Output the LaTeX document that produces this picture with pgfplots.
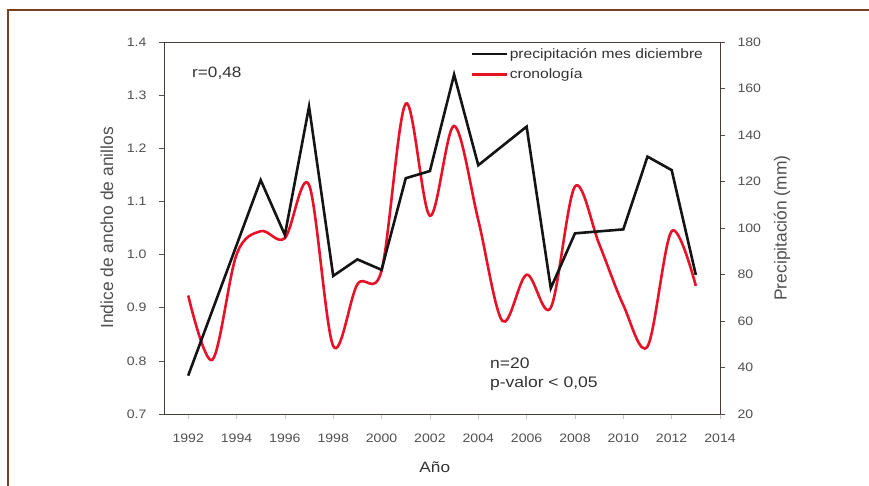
\documentclass[border=0pt]{standalone}
\usepackage{fontspec}
\setmainfont{Liberation Sans}[FakeStretch=1.15]
\newfontfamily\plainsans{Liberation Sans}
\usepackage{pgfplots}
\pgfplotsset{compat=1.18}
\definecolor{framebrown}{RGB}{122,62,32}
\definecolor{axgray}{RGB}{70,60,55}
\definecolor{tickgray}{RGB}{80,80,80}
\definecolor{txtgray}{RGB}{50,50,50}
\definecolor{cred}{RGB}{232,18,40}
\begin{document}
\begin{tikzpicture}[x=1bp,y=1bp]
\path[use as bounding box] (0,0) rectangle (869,486);
\draw[framebrown, line width=2.2bp] (8,-20) -- (8,476) -- (890,476);
\pgfplotsset{
 base/.style={
  scale only axis, width=556bp, height=372bp,
  at={(164bp,72bp)}, anchor=south west,
  xmin=1991, xmax=2014,
  axis line style={axgray, line width=0.9bp},
  tick align=outside, major tick length=5bp,
  /pgf/number format/assume math mode=true,
  tick label style={font=\fontsize{12.3}{14}\selectfont, text=tickgray},
  xtick style={gray!45, line width=0.6bp},
  ytick style={tickgray, line width=0.6bp},
 }}
\begin{axis}[base,
  ymin=0.7, ymax=1.4,
  xtick={1992,1994,1996,1998,2000,2002,2004,2006,2008,2010,2012,2014},
  xticklabels={1992,1994,1996,1998,2000,2002,2004,2006,2008,2010,2012,2014},
  ytick={0.7,0.8,0.9,1.0,1.1,1.2,1.3,1.4},
  yticklabels={0.7,0.8,0.9,1.0,1.1,1.2,1.3,1.4},
  ytick pos=left, xtick pos=bottom,
  xticklabel style={yshift=-11bp},
  yticklabel style={xshift=-9bp},
  every axis y label/.style={at={(axis description cs:-0.1025,0.5)},rotate=90,anchor=center,text=tickgray},
  ylabel={\plainsans\fontsize{17.5}{20}\selectfont Indice de ancho de anillos},
  every axis x label/.style={at={(axis description cs:0.487,-0.1425)},anchor=center,text=txtgray},
  xlabel={\fontsize{15}{18}\selectfont Año},
]
\addplot[cred, line width=2.6bp, smooth, tension=0.55] coordinates {
 (1992,0.923) (1993,0.802) (1994,1.000) (1995,1.044) (1996,1.031)
 (1997,1.131) (1998,0.828) (1999,0.944) (2000,0.970) (2001,1.284)
 (2002,1.073) (2003,1.242) (2004,1.065) (2005,0.875) (2006,0.962)
 (2007,0.900) (2008,1.128) (2009,1.020) (2010,0.905) (2011,0.827)
 (2012,1.044) (2013,0.941)};
\node[anchor=west, font=\fontsize{15}{18}\selectfont, text=txtgray, inner sep=0pt] at (axis description cs:0.0504,0.9167) {r=0,48};
\node[anchor=west, font=\fontsize{15.3}{18}\selectfont, text=txtgray, inner sep=0pt] at (axis description cs:0.586,0.137) {n=20};
\node[anchor=west, font=\fontsize{15.3}{18}\selectfont, text=txtgray, inner sep=0pt] at (axis description cs:0.586,0.0806) {p-valor < 0,05};
\end{axis}
\begin{axis}[base,
  ymin=20, ymax=180,
  ytick={20,40,60,80,100,120,140,160,180},
  axis y line*=right, hide x axis,
  yticklabel style={xshift=9bp},
  every axis y label/.style={at={(axis description cs:1.1115,0.5)},rotate=90,anchor=center,text=tickgray},
  ylabel={\plainsans\fontsize{17.5}{20}\selectfont Precipitación (mm)},
  legend style={at={(axis description cs:0.545,0.994)}, anchor=north west, draw=none, fill=none,
    font=\fontsize{13.6}{15}\selectfont, text=txtgray, row sep=5bp},
  legend cell align=left,
  legend image code/.code={\draw[#1] (0bp,0bp) -- (35bp,0bp);},
]
\addplot[black!92, line width=2.6bp] coordinates {
 (1992,36.5) (1995,120.6) (1996,97.0) (1997,152.2) (1998,79.4)
 (1999,86.5) (2000,82.0) (2001,121.4) (2002,124.5) (2003,166.0)
 (2004,127.0) (2006,143.6) (2007,74.1) (2008,97.7) (2010,99.4)
 (2011,130.7) (2012,124.9) (2013,79.8)};
\addlegendentry{precipitación mes diciembre}
\addlegendimage{cred, line width=2.6bp}
\addlegendentry{cronología}
\end{axis}
\end{tikzpicture}
\end{document}
